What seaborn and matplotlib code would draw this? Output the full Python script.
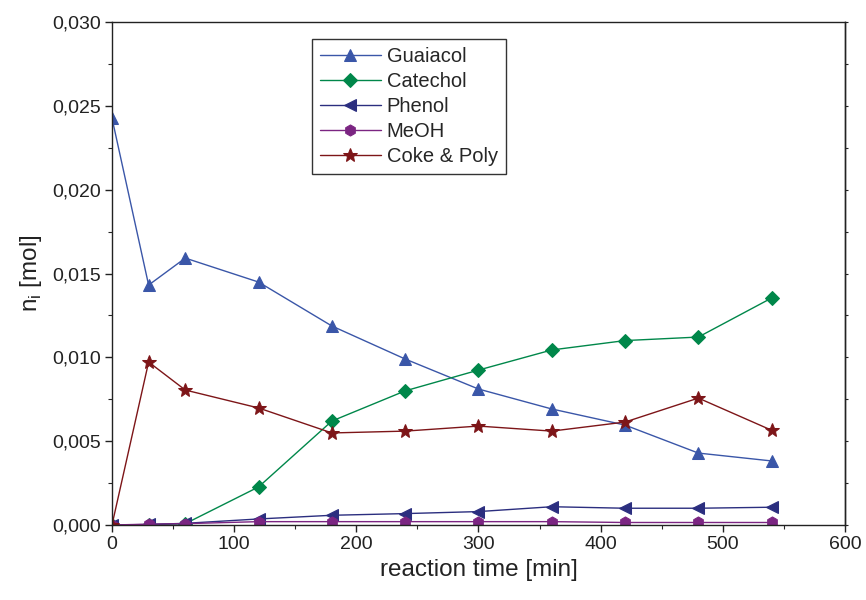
import matplotlib
matplotlib.use("Agg")
import matplotlib.pyplot as plt
import seaborn as sns
import pandas as pd
from matplotlib.ticker import FuncFormatter, MultipleLocator, NullFormatter

time_min = [0, 30, 60, 120, 180, 240, 300, 360, 420, 480, 540]
guaiacol = [0.02427, 0.01431, 0.01592, 0.01449, 0.01187, 0.00990, 0.00811, 0.00692, 0.00596, 0.00429, 0.00382]
catechol = [0.0, 0.00002, 0.00008, 0.00227, 0.00620, 0.00800, 0.00924, 0.01044, 0.01100, 0.01121, 0.01354]
phenol = [0.0, 0.00003, 0.00010, 0.00036, 0.00058, 0.00068, 0.00080, 0.00109, 0.00100, 0.00100, 0.00106]
meoh = [0.0, 0.00005, 0.00008, 0.00020, 0.00020, 0.00020, 0.00020, 0.00020, 0.00015, 0.00015, 0.00015]
coke_poly = [0.0, 0.00972, 0.00805, 0.00698, 0.00549, 0.00560, 0.00590, 0.00560, 0.00614, 0.00757, 0.00565]

series_names = ["Guaiacol", "Catechol", "Phenol", "MeOH", "Coke & Poly"]
series_values = [guaiacol, catechol, phenol, meoh, coke_poly]
colors = ["#3a56a8", "#00874a", "#2b2e7f", "#7b2582", "#7d1518"]
markers = ["^", "D", "<", "h", "*"]
msizes = [9, 7.5, 9, 8, 10]

sns.set_style("ticks")
plt.rcParams["font.family"] = ["Liberation Sans", "DejaVu Sans"]

fig = plt.figure(figsize=(8.66, 6.0), dpi=100)
ax = fig.add_axes([0.1293, 0.125, 0.8464, 0.8383])

for name, vals, c, m, ms in zip(series_names, series_values, colors, markers, msizes):
    df = pd.DataFrame({"t": time_min, "n": vals})
    sns.lineplot(data=df, x="t", y="n", ax=ax, color=c, marker=m, markersize=ms,
                 markeredgecolor=c, linewidth=1.0, label=name)

ax.set_xlim(0, 600)
ax.set_ylim(0, 0.030)
ax.xaxis.set_major_locator(MultipleLocator(100))
ax.xaxis.set_minor_locator(MultipleLocator(50))
ax.yaxis.set_major_locator(MultipleLocator(0.005))
ax.yaxis.set_minor_locator(MultipleLocator(0.0025))
ax.yaxis.set_major_formatter(FuncFormatter(lambda v, p: f"{v:.3f}".replace(".", ",")))
ax.xaxis.set_major_formatter(FuncFormatter(lambda v, p: f"{int(round(v))}"))

for s in ax.spines.values():
    s.set_visible(True)
    s.set_linewidth(1.0)
    s.set_color("#222222")

ax.tick_params(axis="both", which="major", direction="out", length=5, width=1.0,
               labelsize=14, colors="#222222", top=False, right=False, pad=3)
ax.tick_params(axis="both", which="minor", direction="out", length=3, width=0.8,
               top=False, right=False)

# tiny outward ticks on the right frame
sec = ax.secondary_yaxis("right")
sec.yaxis.set_major_locator(MultipleLocator(0.0025))
sec.yaxis.set_major_formatter(NullFormatter())
sec.tick_params(axis="y", which="major", direction="out", length=2, width=0.8, colors="#222222")
sec.spines["right"].set_linewidth(1.0)
sec.spines["right"].set_color("#222222")

ax.set_xlabel("reaction time [min]", fontsize=17.5, color="#222222", labelpad=4)
ax.set_ylabel("n$_\\mathregular{i}$ [mol]", fontsize=17.5, color="#222222", labelpad=6)

leg = ax.legend(loc="upper left", bbox_to_anchor=(0.273, 0.966), fontsize=14.5,
                frameon=True, fancybox=False, edgecolor="#333333", framealpha=1,
                borderpad=0.4, labelspacing=0.3, handlelength=3.0, handletextpad=0.3,
                borderaxespad=0)
leg.get_frame().set_linewidth(1.0)

fig.savefig("out.png", dpi=100)
